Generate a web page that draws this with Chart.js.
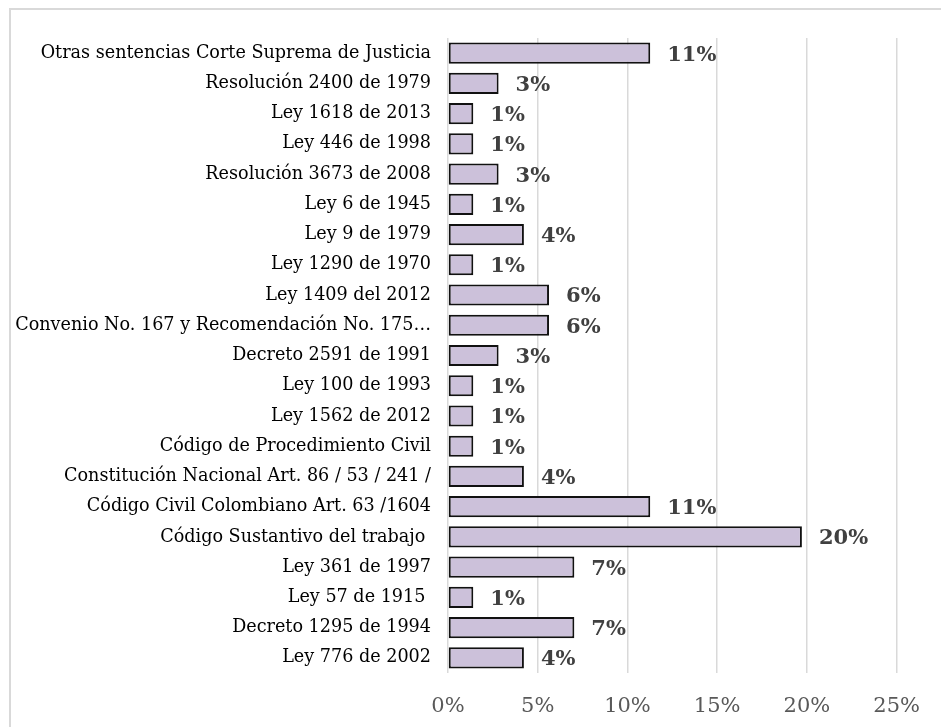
<!DOCTYPE html>
<html lang="es">
<head>
    <meta charset="UTF-8">
    <title>Normativa</title>
    <script src="https://cdn.jsdelivr.net/npm/chart.js"></script>
    <style>
        body { margin: 0; overflow: hidden; background: #fff; }
        .frame {
            position: absolute; left: 9px; top: 8px;
            width: 960px; height: 760px;
            border: 2px solid #d9d9d9;
        }
        .wrap { position: absolute; left: 0; top: 0; width: 941px; height: 727px; }
    </style>
</head>
<body>
    <div class="frame"></div>
    <div class="wrap">
        <canvas id="barChart" width="941" height="727"></canvas>
    </div>
    <script>
    // Categories (top to bottom) and their share of citations (%)
    const categories = [
        'Otras sentencias Corte Suprema de Justicia',
        'Resolución 2400 de 1979',
        'Ley 1618 de 2013',
        'Ley 446 de 1998',
        'Resolución 3673 de 2008',
        'Ley 6 de 1945',
        'Ley 9 de 1979',
        'Ley 1290 de 1970',
        'Ley 1409 del 2012',
        'Convenio No. 167 y Recomendación No. 175…',
        'Decreto 2591 de 1991',
        'Ley 100 de 1993',
        'Ley 1562 de 2012',
        'Código de Procedimiento Civil',
        'Constitución Nacional Art. 86 / 53 / 241 /',
        'Código Civil Colombiano Art. 63 /1604',
        'Código Sustantivo del trabajo ',
        'Ley 361 de 1997',
        'Ley 57 de 1915 ',
        'Decreto 1295 de 1994',
        'Ley 776 de 2002'
    ];
    const shares = [11.27, 2.82, 1.41, 1.41, 2.82, 1.41, 4.23, 1.41, 5.63, 5.63, 2.82,
                    1.41, 1.41, 1.41, 4.23, 11.27, 19.72, 7.04, 1.41, 7.04, 4.23];
    const xTicks = [0, 5, 10, 15, 20, 25];

    // value labels at the end of each bar
    const barLabels = {
        id: 'barLabels',
        afterDatasetsDraw(chart) {
            const ctx = chart.ctx;
            const meta = chart.getDatasetMeta(0);
            ctx.save();
            ctx.font = 'bold 21px "DejaVu Serif"';
            ctx.fillStyle = '#404040';
            ctx.textAlign = 'left';
            ctx.textBaseline = 'middle';
            meta.data.forEach((bar, i) => {
                ctx.fillText(Math.round(shares[i]) + '%', bar.x + 17, bar.y + 2);
            });
            ctx.restore();
        }
    };

    const ctxBar = document.getElementById('barChart').getContext('2d');
    const barChart = new Chart(ctxBar, {
        type: 'bar',
        data: {
            labels: categories,
            datasets: [{
                data: shares,
                backgroundColor: '#ccc1da',
                borderColor: '#111',
                borderWidth: 2,
                borderSkipped: false,
                barPercentage: 0.7,
                categoryPercentage: 1
            }]
        },
        options: {
            indexAxis: 'y',
            responsive: false,
            animation: false,
            layout: { padding: { top: 38, right: 42, left: 0, bottom: 0 } },
            plugins: {
                legend: { display: false },
                tooltip: { enabled: false }
            },
            scales: {
                x: {
                    min: 0,
                    max: 25,
                    afterBuildTicks: (s) => { s.ticks = xTicks.map(v => ({ value: v })); },
                    afterFit: (s) => { s.height = 54; },
                    grid: { color: '#d9d9d9', lineWidth: 1.5, drawTicks: false },
                    border: { display: false },
                    ticks: {
                        padding: 21,
                        color: '#595959',
                        font: { family: 'DejaVu Serif', size: 21 },
                        callback: (v) => v + '%'
                    }
                },
                y: {
                    afterFit: (s) => { s.width = 448; },
                    grid: { display: false, drawTicks: false },
                    border: { display: false },
                    ticks: {
                        padding: 17,
                        color: '#000',
                        autoSkip: false,
                        font: { family: 'DejaVu Serif', size: 17.6 }
                    }
                }
            }
        },
        plugins: [barLabels]
    });
    </script>
</body>
</html>
